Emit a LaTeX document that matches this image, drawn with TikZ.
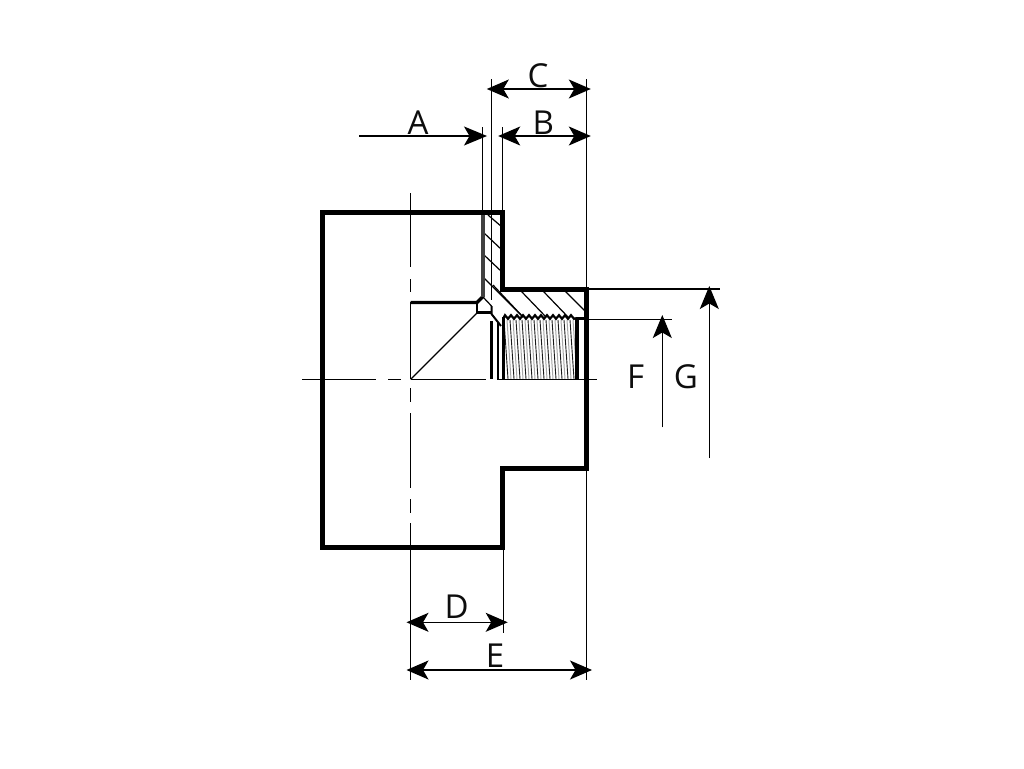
\documentclass[tikz,border=0pt]{standalone}
\usepackage{fontspec}
\setmainfont{Open Sans}
\usetikzlibrary{arrows.meta}
\tikzset{
  thick outline/.style={line width=5pt,line cap=butt,line join=miter},
  wall/.style={line width=3.2pt},
  thinline/.style={line width=1.2pt},
  hatchline/.style={line width=1.2pt},
  greyline/.style={line width=1pt,draw=black!35},
  threadline/.style={line width=0.9pt,draw=black!90},
  dimline/.style={line width=1.2pt,{Stealth[length=22pt,width=19pt,inset=5.5pt]}-{Stealth[length=22pt,width=19pt,inset=5.5pt]},shorten <=-4.5pt,shorten >=-4.5pt},
  dimleader/.style={line width=1.2pt,-{Stealth[length=23pt,width=19pt,inset=5.5pt]}},
  dimtext/.style={font=\fontsize{33}{33}\selectfont,inner sep=0pt,text=black!95}
}
\begin{document}
\begin{tikzpicture}[x=1pt,y=-1pt]
\useasboundingbox (0,0) rectangle (1024,768);
% section hatching
\foreach \xa/\ya/\xb/\yb in {488/215/502/227, 484/233/502/250, 484/255/502/272, 484/278/523/317,
  493/285/523/317, 521/291/546/317, 543/291/568/317, 565/291/585/311}
  \draw[hatchline] (\xa,\ya) -- (\xb,\yb);

% thread flanks
\foreach \i in {0,...,11}{
  \draw[greyline] ({507+6*\i},320) -- ({511+6*\i},379);
  \draw[threadline] ({504+6*\i},320) -- ({508+6*\i},379);
}
% thread crest
\draw[line width=2.2pt,line join=miter]
  (503,319) \foreach \i in {0,...,11}{ -- ({505+6*\i},315.2) -- ({508+6*\i},318.8) } -- (577,318);

% centre lines
\draw[thinline] (302,379.3) -- (376,379.3) (388,379.3) -- (401,379.3) (410.7,379.3) -- (486,379.3);
\draw[thinline] (586,379.3) -- (597,379.3);
\draw[thinline] (410.7,193) -- (410.7,267) (410.7,279) -- (410.7,292) (410.7,302) -- (410.7,379.3)
  (410.7,388) -- (410.7,402) (410.7,413) -- (410.7,488) (410.7,499) -- (410.7,513) (410.7,523) -- (410.7,680);

% inner bore
\draw[line width=3.2pt] (410.7,302.5) -- (477,302.5) -- (483,296.5);
\draw[line width=2.2pt] (477,302.5) -- (477,313);
\draw[line width=2.6pt] (477,312.3) -- (491.5,312.3);
\draw[thinline] (410.7,379.3) -- (477,313);
\draw[thinline] (483,297) -- (491.5,306);
\draw[line width=2pt] (491.5,306) -- (491.5,314) -- (501,326);

% wall
\draw[wall,draw=black!75] (483,212) -- (483,297);

% threaded bore verticals
\draw[line width=3.4pt] (491.7,321) -- (491.7,379.3);
\draw[line width=2pt] (498.3,323) -- (498.3,379.3);
\draw[line width=3.2pt] (503.3,317) -- (503.3,379.3);
\draw[line width=3.8pt] (577.3,318) -- (577.3,379.3);
\draw[line width=1.4pt] (497,379.3) -- (586,379.3);
\draw[line width=2.6pt] (575.5,318.5) -- (587,318.5);

% main outline
\draw[thick outline] (322,212) -- (502.7,212) -- (502.7,289) -- (586.5,289) -- (586.5,468) -- (502.7,468) -- (502.7,547) -- (322,547) -- cycle;

% extension lines
\draw[thinline] (482.5,127) -- (482.5,212);
\draw[thinline] (491.3,79) -- (491.3,300);
\draw[thinline] (502.3,127) -- (502.3,212);
\draw[thinline] (586.5,79) -- (586.5,289);
\draw[thinline] (503.5,547) -- (503.5,632.5);
\draw[thinline] (586.5,468) -- (586.5,680);
\draw[thinline] (586.5,289) -- (720,289);
\draw[thinline] (586.5,319.3) -- (671.7,319.3);

% dimensions
\coordinate (Cl) at (491.3,89); \coordinate (Cr) at (586.3,89);
\coordinate (Bl) at (502.7,136); \coordinate (Br) at (586.3,136);
\coordinate (Al) at (359,136); \coordinate (Ar) at (487,136);
\coordinate (Dl) at (411,622.3); \coordinate (Dr) at (503.2,622.3);
\coordinate (El) at (411,670); \coordinate (Er) at (587.5,670);
\coordinate (Fa) at (662.3,427.3); \coordinate (Fb) at (662.3,315);
\coordinate (Ga) at (709.3,458); \coordinate (Gb) at (709.3,286);
\draw[dimline] (Cl) -- (Cr);
\draw[dimline] (Bl) -- (Br);
\draw[dimleader] (Al) -- (Ar);
\draw[dimline] (Dl) -- (Dr);
\draw[dimline] (El) -- (Er);
\draw[dimleader] (Fa) -- (Fb);
\draw[dimleader] (Ga) -- (Gb);

% labels
\node[dimtext] (labA) at (418,122.7) {A};
\node[dimtext] (labB) at (543.3,122.7) {B};
\node[dimtext] (labC) at (538,75.7) {C};
\node[dimtext] (labD) at (456.7,607) {D};
\node[dimtext] (labE) at (495,656) {E};
\node[dimtext] (labF) at (635.7,376.7) {F};
\node[dimtext] (labG) at (686,376.7) {G};
\end{tikzpicture}
\end{document}
